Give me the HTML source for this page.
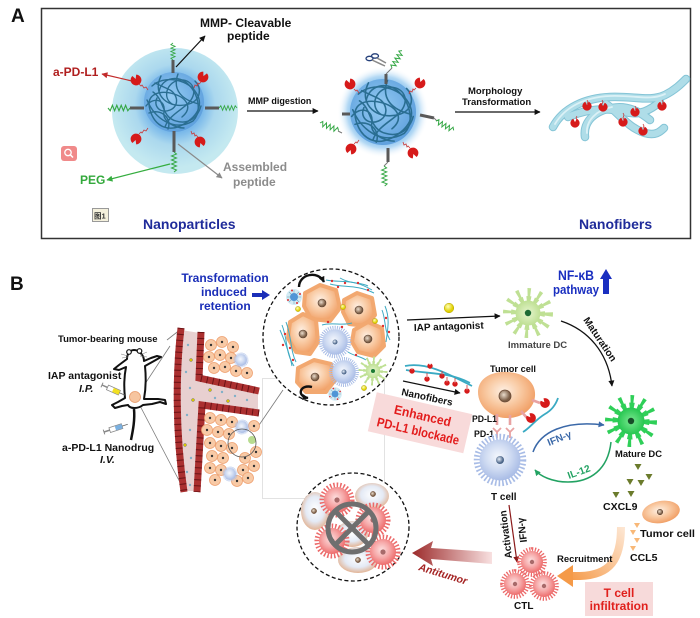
<!DOCTYPE html>
<html><head><meta charset="utf-8">
<style>
html,body{margin:0;padding:0;background:#fff}
svg{display:block}
text{font-family:"Liberation Sans",Arial,sans-serif;font-weight:bold}
</style></head><body>
<svg xmlns="http://www.w3.org/2000/svg" width="700" height="618" viewBox="0 0 700 618">
<defs>
 <marker id="mk" viewBox="0 0 10 10" refX="9" refY="5" markerUnits="userSpaceOnUse" markerWidth="7" markerHeight="6" orient="auto"><path d="M0,0L10,5L0,10z" fill="#111"/></marker>
 <marker id="mkr" viewBox="0 0 10 10" refX="9" refY="5" markerUnits="userSpaceOnUse" markerWidth="7" markerHeight="6" orient="auto"><path d="M0,0L10,5L0,10z" fill="#c22a2a"/></marker>
 <marker id="mkg" viewBox="0 0 10 10" refX="9" refY="5" markerUnits="userSpaceOnUse" markerWidth="7" markerHeight="6" orient="auto"><path d="M0,0L10,5L0,10z" fill="#35ad3f"/></marker>
 <marker id="mkgy" viewBox="0 0 10 10" refX="9" refY="5" markerUnits="userSpaceOnUse" markerWidth="7" markerHeight="6" orient="auto"><path d="M0,0L10,5L0,10z" fill="#8a8a8a"/></marker>
 <marker id="mkb" viewBox="0 0 10 10" refX="9" refY="5" markerUnits="userSpaceOnUse" markerWidth="7" markerHeight="6" orient="auto"><path d="M0,0L10,5L0,10z" fill="#3a68a8"/></marker>
 <marker id="mkgr" viewBox="0 0 10 10" refX="9" refY="5" markerUnits="userSpaceOnUse" markerWidth="7" markerHeight="6" orient="auto"><path d="M0,0L10,5L0,10z" fill="#22a262"/></marker>
 <marker id="mkdr" viewBox="0 0 10 10" refX="9" refY="5" markerUnits="userSpaceOnUse" markerWidth="7" markerHeight="6" orient="auto"><path d="M0,0L10,5L0,10z" fill="#8b1a1a"/></marker>

 <radialGradient id="gcy" cx="0.5" cy="0.45" r="0.5">
  <stop offset="0" stop-color="#5fa6ea"/><stop offset="0.45" stop-color="#7ab9ea"/>
  <stop offset="0.64" stop-color="#abd8ee"/><stop offset="1" stop-color="#c4e9f0"/>
 </radialGradient>
 <radialGradient id="gball" cx="0.45" cy="0.42" r="0.6">
  <stop offset="0" stop-color="#94cbf2"/><stop offset="1" stop-color="#5d9fdd"/>
 </radialGradient>
 <radialGradient id="gglow" r="0.5">
  <stop offset="0.6" stop-color="#6fb2ea"/><stop offset="0.78" stop-color="#a2d0f2" stop-opacity="0.8"/><stop offset="1" stop-color="#ffffff" stop-opacity="0"/>
 </radialGradient>
 <radialGradient id="gt" cx="0.45" cy="0.42" r="0.62">
  <stop offset="0" stop-color="#fef0e4"/><stop offset="0.45" stop-color="#f9cca6"/><stop offset="1" stop-color="#f09a5e"/>
 </radialGradient>
 <radialGradient id="gtc" cx="0.45" cy="0.42" r="0.62">
  <stop offset="0" stop-color="#f4f7fd"/><stop offset="0.5" stop-color="#cfdbf2"/><stop offset="1" stop-color="#a4b8e4"/>
 </radialGradient>
 <radialGradient id="gctl" cx="0.45" cy="0.42" r="0.62">
  <stop offset="0" stop-color="#fde0e0"/><stop offset="0.5" stop-color="#f6a8a8"/><stop offset="1" stop-color="#ec6464"/>
 </radialGradient>
 <radialGradient id="gpale" cx="0.5" cy="0.45" r="0.6">
  <stop offset="0" stop-color="#ffffff"/><stop offset="0.55" stop-color="#e4eaf5"/><stop offset="1" stop-color="#e2a880"/>
 </radialGradient>
 <radialGradient id="gmdc"><stop offset="0" stop-color="#7ae890"/><stop offset="1" stop-color="#26c650"/></radialGradient>
 <radialGradient id="gidc"><stop offset="0" stop-color="#e6f5ce"/><stop offset="1" stop-color="#bfe094"/></radialGradient>
 <radialGradient id="gnuc" cx="0.4" cy="0.4"><stop offset="0" stop-color="#eadccc"/><stop offset="1" stop-color="#7a5c44"/></radialGradient>
 <radialGradient id="gnucb" cx="0.4" cy="0.4"><stop offset="0" stop-color="#e6eef8"/><stop offset="1" stop-color="#4a6488"/></radialGradient>
 <radialGradient id="gyel" cx="0.4" cy="0.35"><stop offset="0" stop-color="#ffffb8"/><stop offset="1" stop-color="#e0d000"/></radialGradient>
 <linearGradient id="gorange" gradientUnits="userSpaceOnUse" x1="621" y1="525" x2="565" y2="576">
  <stop offset="0" stop-color="#fde6d2"/><stop offset="1" stop-color="#f59a48"/>
 </linearGradient>
 <linearGradient id="gant" x1="0" y1="0" x2="1" y2="0">
  <stop offset="0" stop-color="#9c2b2b"/><stop offset="1" stop-color="#f8e0e0"/>
 </linearGradient>

 <path id="ab" d="M-2,-5L0,-1L2,-5A5.4,5.4 0 1 1 -2,-5Z" fill="#d61a1a"/>
 <polyline id="zz" points="0,0 2,-2.5 4,2.5 6,-2.5 8,2.5 10,-2.5 12,2.5 14,-2.5 16,2.5 18,-2.5 20,0" fill="none" stroke="#36a846" stroke-width="1"/>
 <g id="tangle" fill="none" stroke="#2a6e92" stroke-width="1.4" stroke-linecap="round">
  <path d="M-22,-16C-10,-27 12,-23 21,-11S25,13 10,22S-19,25 -24,8S-13,-12 0,-8S19,6 8,15"/>
  <path d="M-27,-2C-19,17 0,30 19,19C28,10 25,-8 13,-19C2,-28 -13,-23 -15,-10"/>
  <path d="M-13,-26C-23,-6 -4,8 15,2C27,-2 28,-14 21,-21"/>
  <path d="M-25,11C-12,6 -2,17 -6,27M4,-28C-2,-12 8,-2 25,2M-21,-10C-9,-2 -13,15 2,19C15,23 24,15 27,4"/>
  <path d="M-9,25C-4,10 15,6 19,-6C23,-17 12,-25 2,-21C-8,-17 -11,-4 -2,2"/>
  <path d="M-19,-19L-6,-13C4,-9 6,4 -4,8C-14,12 -21,4 -17,-4"/>
  <path d="M-28,4C-20,-6 -8,-2 -10,10C-12,20 2,26 10,26"/>
 </g>
 <g id="tcell">
  <circle r="21.5" fill="none" stroke="#a8bce6" stroke-width="7" pathLength="40" stroke-dasharray="0.45 0.55"/>
  <circle r="19.5" fill="url(#gtc)"/>
 </g>
 <g id="ctl">
  <circle r="10.5" fill="none" stroke="#ec6a6a" stroke-width="6" pathLength="28" stroke-dasharray="0.45 0.55"/>
  <circle r="10" fill="url(#gctl)"/>
  <circle r="2" fill="#a86a6a"/>
 </g>
 <g id="oc"><circle r="5.5" fill="#f8caa6" stroke="#eea070" stroke-width="0.8"/><circle r="1.2" fill="#333"/></g>
 <g id="mnp">
  <circle r="8" fill="#d3ebf4"/>
  <g stroke="#7aaabb" stroke-width="0.6"><line x1="-7" y1="0" x2="7" y2="0"/><line x1="0" y1="-7" x2="0" y2="7"/><line x1="-5" y1="-5" x2="5" y2="5"/><line x1="-5" y1="5" x2="5" y2="-5"/></g>
  <circle r="4" fill="#4f95d6"/>
  <g fill="#e03030"><circle cx="6" cy="-3" r="1"/><circle cx="-6" cy="3" r="1"/><circle cx="-2" cy="-6.5" r="1"/><circle cx="3" cy="6" r="1"/></g>
 </g>
</defs>

<!-- ================= PANEL A ================= -->
<text x="11" y="22" font-size="19" font-weight="normal" fill="#111">A</text>
<rect x="41.5" y="8.5" width="649" height="230" fill="#fff" stroke="#333" stroke-width="1.5"/>

<!-- particle 1 -->
<circle cx="175" cy="111" r="63" fill="url(#gcy)"/>
<circle cx="174" cy="102" r="30" fill="url(#gball)"/>
<use href="#tangle" transform="translate(174,102)"/>
<g stroke="#595959" stroke-width="3">
 <line x1="173" y1="60" x2="173" y2="73"/>
 <line x1="130" y1="108" x2="144" y2="108"/>
 <line x1="205" y1="108" x2="219" y2="108"/>
 <line x1="174" y1="131" x2="174" y2="152"/>
</g>
<use href="#zz" transform="translate(173,60) rotate(-90) scale(0.85)"/>
<use href="#zz" transform="translate(130,108) rotate(180) scale(1.1)"/>
<use href="#zz" transform="translate(219,108) scale(0.9)"/>
<use href="#zz" transform="translate(174,152) rotate(90)"/>
<g fill="none" stroke="#c83a3a" stroke-width="0.8">
 <path d="M139,84 l2,2 l1,-1 l2,3 l2,-1 l2,3"/>
 <path d="M201,82 l-2,2 l-1,-1 l-1,3 l-2,-1 l-1,3"/>
 <path d="M139,134 l2,-2 l1,1 l2,-3 l2,1 l2,-3"/>
 <path d="M198,137 l-2,-2 l-1,1 l-1,-3 l-2,1 l-1,-3"/>
</g>
<use href="#ab" transform="translate(136,80) rotate(-20)"/>
<use href="#ab" transform="translate(203,77) rotate(25)"/>
<use href="#ab" transform="translate(136,139) rotate(200)"/>
<use href="#ab" transform="translate(200,142) rotate(160)"/>

<!-- labels particle 1 -->
<line x1="176" y1="67" x2="205" y2="36" stroke="#111" stroke-width="1.2" marker-end="url(#mk)"/>
<text x="200" y="27" font-size="12" fill="#111">MMP- Cleavable</text>
<text x="227" y="40" font-size="12" fill="#111">peptide</text>
<line x1="132" y1="81" x2="102" y2="74" stroke="#c22a2a" stroke-width="1.2" marker-end="url(#mkr)"/>
<text x="53" y="76" font-size="12" fill="#b01e1e">a-PD-L1</text>
<line x1="170" y1="164" x2="107" y2="180" stroke="#35ad3f" stroke-width="1.2" marker-end="url(#mkg)"/>
<text x="80" y="184" font-size="12" fill="#33a93c">PEG</text>
<line x1="178" y1="144" x2="222" y2="178" stroke="#8a8a8a" stroke-width="1.2" marker-end="url(#mkgy)"/>
<text x="223" y="171" font-size="12" fill="#8c8c8c">Assembled</text>
<text x="233" y="186" font-size="12" fill="#8c8c8c">peptide</text>

<!-- small icons -->
<rect x="61" y="146" width="16" height="15" rx="3" fill="#f08a8a"/>
<circle cx="68" cy="152.5" r="3.2" fill="none" stroke="#fff" stroke-width="1.3"/>
<line x1="70.3" y1="154.8" x2="73" y2="157.5" stroke="#fff" stroke-width="1.5"/>
<rect x="92.5" y="208.5" width="16" height="13" fill="#f4f0dc" stroke="#999" stroke-width="1"/>
<text x="94" y="218.5" font-size="7.5" font-weight="normal" fill="#333" style='font-family:"Liberation Sans","Noto Sans CJK SC",sans-serif'>图1</text>

<text x="143" y="229" font-size="14" fill="#1f2b9a">Nanoparticles</text>

<!-- MMP digestion arrow -->
<text x="248" y="104" font-size="9" fill="#111">MMP digestion</text>
<line x1="247" y1="111" x2="318" y2="111" stroke="#111" stroke-width="1.2" marker-end="url(#mk)"/>

<!-- particle 2 -->
<circle cx="383" cy="112" r="46" fill="url(#gglow)"/>
<circle cx="383" cy="112" r="33" fill="url(#gball)"/>
<use href="#tangle" transform="translate(383,112) scale(1.12)"/>
<g stroke="#595959" stroke-width="3">
 <line x1="386" y1="74" x2="386" y2="84"/>
 <line x1="420" y1="115" x2="434" y2="118"/>
 <line x1="388" y1="148" x2="388" y2="162"/>
 <line x1="342" y1="114" x2="350" y2="114"/>
</g>
<path d="M386,74 L392,68" stroke="#777" stroke-width="1"/>
<path d="M434,118 L437,121" stroke="#777" stroke-width="1"/>
<path d="M388,162 L384,166" stroke="#777" stroke-width="1"/>
<use href="#zz" transform="translate(392,68) rotate(-60)"/>
<use href="#zz" transform="translate(436,121) rotate(28)"/>
<use href="#zz" transform="translate(384,166) rotate(88)"/>
<use href="#zz" transform="translate(320,123) rotate(22)"/>
<path d="M338,131 L342,133" stroke="#777" stroke-width="1"/>
<ellipse cx="369.5" cy="58.5" rx="3.5" ry="2.2" fill="none" stroke="#25407a" stroke-width="1.3"/>
<ellipse cx="375" cy="56" rx="3.5" ry="2.2" fill="none" stroke="#25407a" stroke-width="1.3"/>
<path d="M372,60 L385,66 M377,58 L386,63" stroke="#888" stroke-width="1.5"/>
<g fill="none" stroke="#c83a3a" stroke-width="0.8">
 <path d="M416,88 l-2,2 l-1,-1 l-1,3 l-2,-1 l-1,3"/>
 <path d="M410,148 l-2,-2 l-1,1 l-1,-3 l-2,1 l-1,-3"/>
 <path d="M354,89 l2,2 l1,-1 l2,3"/>
 <path d="M354,144 l2,-2 l1,1 l2,-3"/>
</g>
<use href="#ab" transform="translate(420,83) rotate(20)"/>
<use href="#ab" transform="translate(413,153) rotate(160)"/>
<use href="#ab" transform="translate(350,84) rotate(-20)"/>
<use href="#ab" transform="translate(351,149) rotate(200)"/>

<!-- morphology transformation -->
<text x="468" y="94" font-size="9.5" fill="#111">Morphology</text>
<text x="462" y="105" font-size="9.5" fill="#111">Transformation</text>
<line x1="455" y1="112" x2="540" y2="112" stroke="#111" stroke-width="1.2" marker-end="url(#mk)"/>

<!-- nanofibers A -->
<g fill="none" stroke-linecap="round">
 <g stroke="#84c4d6" stroke-width="8.5">
  <path d="M553,127 C563,108 585,98 610,97 C635,96 650,102 665,95 C675,90 681,84 686,79"/>
  <path d="M568,117 C585,110 605,107 625,112 C640,116 650,110 660,102"/>
  <path d="M585,137 C583,122 594,111 612,108 C628,105 640,112 650,120"/>
  <path d="M606,104 C618,112 628,128 645,133 C655,136 660,132 664,128"/>
 </g>
 <g stroke="#afdde8" stroke-width="6.5">
  <path d="M553,127 C563,108 585,98 610,97 C635,96 650,102 665,95 C675,90 681,84 686,79"/>
  <path d="M568,117 C585,110 605,107 625,112 C640,116 650,110 660,102"/>
  <path d="M585,137 C583,122 594,111 612,108 C628,105 640,112 650,120"/>
  <path d="M606,104 C618,112 628,128 645,133 C655,136 660,132 664,128"/>
 </g>
 <g stroke="#dbf1f6" stroke-width="1.8">
  <path d="M555,124 C565,107 585,97 610,96 C635,95 650,101 665,94"/>
  <path d="M587,133 C586,121 596,110 612,107"/>
 </g>
</g>
<g stroke="#c83a3a" stroke-width="0.8" fill="none">
 <path d="M587,100 l1,2 l-1,2"/><path d="M602,100 l1,2 l-1,2"/><path d="M635,106 l1,2 l-1,2"/>
 <path d="M623,113 l1,2 l-1,3 l1,2"/><path d="M577,116 l-1,2 l1,2"/><path d="M662,100 l1,2 l-1,2"/><path d="M643,124 l1,2 l-1,2"/>
</g>
<use href="#ab" transform="translate(587,106) scale(0.85)"/>
<use href="#ab" transform="translate(603,107) scale(0.85)"/>
<use href="#ab" transform="translate(635,112) scale(0.85)"/>
<use href="#ab" transform="translate(623,122) scale(0.85)"/>
<use href="#ab" transform="translate(575,123) scale(0.85)"/>
<use href="#ab" transform="translate(662,106) scale(0.85)"/>
<use href="#ab" transform="translate(643,131) scale(0.85)"/>

<text x="579" y="229" font-size="14" fill="#1f2b9a">Nanofibers</text>

<!-- ================= PANEL B ================= -->
<text x="10" y="290" font-size="19" font-weight="normal" fill="#111">B</text>

<text x="225" y="282" font-size="12" fill="#1a2eb8" text-anchor="middle">Transformation</text>
<text x="224" y="296" font-size="12" fill="#1a2eb8" text-anchor="middle">induced</text>
<text x="225" y="310" font-size="12" fill="#1a2eb8" text-anchor="middle">retention</text>
<path d="M252,293 L262,293 L262,290 L270,295 L262,300 L262,297 L252,297 Z" fill="#1a2eb8"/>

<!-- white box -->
<rect x="262.5" y="378.5" width="122" height="120" fill="#fff" stroke="#e2e2e2" stroke-width="1"/>

<!-- mouse labels -->
<text x="58" y="342" font-size="9.5" fill="#111">Tumor-bearing mouse</text>
<text x="48" y="379" font-size="10.5" fill="#111">IAP antagonist</text>
<text x="79" y="392" font-size="10.5" font-style="italic" fill="#111">I.P.</text>
<text x="62" y="451" font-size="10.5" fill="#111">a-PD-L1 Nanodrug</text>
<text x="100" y="463" font-size="10.5" font-style="italic" fill="#111">I.V.</text>

<!-- callout lines -->
<g stroke="#7a7a7a" stroke-width="0.8">
 <line x1="167" y1="340" x2="181" y2="329"/>
 <line x1="137" y1="396" x2="170" y2="346"/>
 <line x1="137" y1="400" x2="184" y2="490"/>
 <line x1="255" y1="431" x2="283" y2="390"/>
</g>

<!-- mouse -->
<path d="M134,350 C130,350 127,354 127,359 L119,365 L114,369 L119,370 L126,367 C124,377 124,389 125,398 L118,402 L112,405 L115,408 L122,406 L128,405 C130,409 138,409 143,405 L152,404 L160,402 L166,404 L165,400 L158,399 L144,399 C146,388 146,376 145,366 L154,361 L161,357 L157,356 L151,358 L144,361 C144,355 139,350 134,350 Z" fill="#fff" stroke="#111" stroke-width="2" stroke-linejoin="round"/>
<path d="M134,409 C135,420 133,430 131,440" fill="none" stroke="#111" stroke-width="2.5"/>
<circle cx="129" cy="352" r="2.3" fill="#fff" stroke="#111" stroke-width="1.2"/>
<circle cx="139.5" cy="351" r="2.3" fill="#fff" stroke="#111" stroke-width="1.2"/>
<g stroke="#777" stroke-width="0.5"><line x1="128" y1="356" x2="121" y2="354"/><line x1="128" y1="357" x2="122" y2="358"/><line x1="140" y1="355" x2="147" y2="352"/><line x1="140" y1="356" x2="147" y2="357"/></g>
<circle cx="135" cy="397" r="5.5" fill="#f6c5a0" stroke="#e89a6a" stroke-width="0.8"/>
<!-- syringes -->
<g transform="translate(102,385) rotate(24)">
 <line x1="0" y1="-2.5" x2="0" y2="2.5" stroke="#888" stroke-width="1"/>
 <line x1="0" y1="0" x2="6" y2="0" stroke="#888" stroke-width="1.5"/>
 <rect x="6" y="-2.5" width="13" height="5" fill="#fff" stroke="#888" stroke-width="0.8"/>
 <rect x="12" y="-2.2" width="7" height="4.4" fill="#f2e020"/>
 <line x1="19" y1="0" x2="25" y2="0" stroke="#666" stroke-width="0.8"/>
</g>
<g transform="translate(104,432) rotate(-18)">
 <line x1="0" y1="-2.5" x2="0" y2="2.5" stroke="#888" stroke-width="1"/>
 <line x1="0" y1="0" x2="6" y2="0" stroke="#888" stroke-width="1.5"/>
 <rect x="6" y="-2.5" width="13" height="5" fill="#fff" stroke="#888" stroke-width="0.8"/>
 <rect x="12" y="-2.2" width="7" height="4.4" fill="#7ab0e0"/>
 <line x1="19" y1="0" x2="25" y2="0" stroke="#666" stroke-width="0.8"/>
</g>

<!-- vessel -->
<path d="M181,330 L200,333 L199,379 L258,392 L258,412 L201,405 L196,491 L184,491 C178,440 175,380 181,330 Z" fill="#e8d0d0"/>
<g fill="none" stroke="#ab3030" stroke-width="7">
 <path d="M181,328 C176,370 175,430 184,492"/>
 <path d="M201,332 L199,378 L259,391"/>
 <path d="M259,413 L202,405 L197,492"/>
</g>
<g fill="none" stroke="#6b1215" stroke-width="7" stroke-dasharray="1 5">
 <path d="M181,328 C176,370 175,430 184,492"/>
 <path d="M201,332 L199,378 L259,391"/>
 <path d="M259,413 L202,405 L197,492"/>
</g>
<g fill="#80b0c8">
 <circle cx="188" cy="345" r="1.2"/><circle cx="186" cy="372" r="1.2"/><circle cx="190" cy="388" r="1.2"/><circle cx="187" cy="415" r="1.2"/>
 <circle cx="190" cy="430" r="1.2"/><circle cx="191" cy="458" r="1.2"/><circle cx="187" cy="472" r="1.2"/><circle cx="190" cy="485" r="1.2"/>
 <circle cx="222" cy="392" r="1.2"/><circle cx="235" cy="396" r="1.2"/><circle cx="247" cy="400" r="1.2"/><circle cx="215" cy="398" r="1.2"/>
</g>
<g fill="#d8c800" stroke="#665" stroke-width="0.4">
 <circle cx="191" cy="360" r="1.5"/><circle cx="193" cy="400" r="1.5"/><circle cx="185" cy="445" r="1.5"/><circle cx="210" cy="390" r="1.5"/><circle cx="228" cy="401" r="1.5"/>
</g>
<!-- tissue cells -->
<use href="#oc" x="211" y="345"/><use href="#oc" x="222" y="342"/><use href="#oc" x="233" y="347"/>
<use href="#oc" x="209" y="357"/><use href="#oc" x="220" y="355"/><use href="#oc" x="231" y="358"/>
<use href="#oc" x="214" y="368"/><use href="#oc" x="225" y="367"/><use href="#oc" x="236" y="371"/><use href="#oc" x="247" y="373"/>
<use href="#oc" x="210" y="418"/><use href="#oc" x="221" y="420"/><use href="#oc" x="232" y="422"/><use href="#oc" x="254" y="426"/>
<use href="#oc" x="207" y="430"/><use href="#oc" x="218" y="432"/><use href="#oc" x="229" y="434"/>
<use href="#oc" x="210" y="443"/><use href="#oc" x="221" y="446"/><use href="#oc" x="232" y="448"/>
<use href="#oc" x="212" y="456"/><use href="#oc" x="223" y="458"/><use href="#oc" x="245" y="458"/><use href="#oc" x="256" y="452"/>
<use href="#oc" x="210" y="468"/><use href="#oc" x="221" y="470"/><use href="#oc" x="243" y="470"/><use href="#oc" x="254" y="466"/>
<use href="#oc" x="215" y="480"/><use href="#oc" x="237" y="481"/><use href="#oc" x="248" y="478"/>
<use href="#tcell" transform="translate(241,360) scale(0.3)"/>
<use href="#tcell" transform="translate(242,427) scale(0.3)"/>
<use href="#tcell" transform="translate(230,474) scale(0.3)"/>
<circle cx="252" cy="440" r="4" fill="#b8dc90"/>
<circle cx="242" cy="443" r="14" fill="none" stroke="#555" stroke-width="0.8"/>

<!-- dashed zoom circle -->
<circle cx="331" cy="337" r="68" fill="#fff" stroke="#111" stroke-width="1.3" stroke-dasharray="4 2.5"/>
<g stroke-linejoin="round" stroke="#f2a870" stroke-width="4" fill="url(#gt)">
 <polygon points="305,293 320,285 336,290 340,308 330,321 311,319 304,306"/>
 <polygon points="344,300 357,293 372,298 375,315 366,326 349,324 343,312"/>
 <polygon points="290,322 303,314 316,320 318,342 310,354 296,352 288,338"/>
 <polygon points="354,330 368,322 382,328 384,346 374,356 358,352 352,342"/>
 <polygon points="298,368 314,360 331,364 335,380 326,392 306,392 297,382"/>
</g>
<g fill="url(#gnuc)" stroke="#5a4030" stroke-width="0.6">
 <circle cx="322" cy="303" r="4"/><circle cx="359" cy="310" r="4"/><circle cx="303" cy="334" r="4"/><circle cx="368" cy="339" r="4"/><circle cx="315" cy="377" r="4"/>
</g>
<use href="#tcell" transform="translate(335,342) scale(0.65)"/>
<circle cx="335" cy="342" r="2.5" fill="url(#gnucb)"/>
<use href="#tcell" transform="translate(344,372) scale(0.6)"/>
<circle cx="344" cy="372" r="2.5" fill="url(#gnucb)"/>
<g transform="translate(373,371) scale(0.58)">
 <circle r="17" fill="none" stroke="#bfe094" stroke-width="16" pathLength="33" stroke-dasharray="0.8 1.95"/>
 <circle r="14" fill="none" stroke="#bfe094" stroke-width="6" pathLength="33" stroke-dasharray="1.6 1.15" stroke-dashoffset="0.4"/>
 <circle r="12.5" fill="url(#gidc)"/>
 <circle r="3.5" fill="#1d7b34"/>
</g>
<use href="#mnp" x="294" y="297"/>
<use href="#mnp" transform="translate(335,394) scale(0.85)"/>
<g fill="none" stroke="#3eaac2" stroke-width="1">
 <path d="M326,280 C340,283 352,278 372,290"/><path d="M330,284 C345,288 355,284 374,293"/><path d="M340,278 C350,284 360,282 368,286"/>
 <path d="M382,310 C386,320 384,330 390,340"/><path d="M385,306 C390,318 388,328 386,342"/>
 <path d="M282,325 C288,340 285,352 294,366"/><path d="M286,322 C292,338 290,350 296,362"/><path d="M280,330 C286,344 290,355 292,366"/>
 <path d="M322,325 C332,322 342,326 352,323"/><path d="M348,352 C354,356 360,356 366,360"/>
</g>
<g fill="#e03030">
 <circle cx="332" cy="281" r="1.2"/><circle cx="345" cy="283" r="1.2"/><circle cx="358" cy="283" r="1.2"/><circle cx="368" cy="290" r="1.2"/><circle cx="338" cy="287" r="1.2"/>
 <circle cx="386" cy="318" r="1.2"/><circle cx="389" cy="332" r="1.2"/><circle cx="383" cy="326" r="1.2"/>
 <circle cx="285" cy="334" r="1.2"/><circle cx="290" cy="348" r="1.2"/><circle cx="293" cy="360" r="1.2"/><circle cx="283" cy="345" r="1.2"/>
 <circle cx="328" cy="322" r="1.2"/><circle cx="342" cy="327" r="1.2"/><circle cx="356" cy="355" r="1.2"/>
</g>
<g fill="url(#gyel)" stroke="#a09000" stroke-width="0.4">
 <circle cx="298" cy="309" r="2.6"/><circle cx="343" cy="307" r="2.6"/><circle cx="375" cy="321" r="2.6"/><circle cx="364" cy="388" r="2.6"/>
</g>
<path d="M299,287 C299,274 318,270 324,282" fill="none" stroke="#111" stroke-width="2.4" marker-end="url(#mk)"/>
<path d="M312,387 C300,384 296,396 308,398" fill="none" stroke="#111" stroke-width="2.4" marker-end="url(#mk)"/>

<!-- IAP antagonist -->
<circle cx="449" cy="308" r="4.8" fill="url(#gyel)" stroke="#b0a000" stroke-width="0.5"/>
<line x1="407" y1="320" x2="500" y2="316" stroke="#111" stroke-width="1.2" marker-end="url(#mk)"/>
<text transform="translate(414,331) rotate(-2)" font-size="10" fill="#111">IAP antagonist</text>

<!-- immature DC -->
<g transform="translate(528,313)">
 <circle r="17" fill="none" stroke="#bfe094" stroke-width="16" pathLength="33" stroke-dasharray="0.8 1.95"/>
 <circle r="14" fill="none" stroke="#bfe094" stroke-width="6" pathLength="33" stroke-dasharray="1.6 1.15" stroke-dashoffset="0.4"/>
 <circle r="12.5" fill="url(#gidc)"/>
 <circle r="3.2" fill="#1d6b34"/>
</g>
<text x="508" y="348" font-size="9.5" fill="#444">Immature DC</text>

<!-- NF-kB -->
<text x="558" y="280" font-size="14" fill="#1a2fc0" textLength="36" lengthAdjust="spacingAndGlyphs">NF-κB</text>
<text x="553" y="294" font-size="13" fill="#1a2fc0" textLength="46" lengthAdjust="spacingAndGlyphs">pathway</text>
<path d="M603,294 L603,279 L600,279 L606,269 L612,279 L609,279 L609,294 Z" fill="#1a2fc0"/>

<!-- maturation -->
<path d="M561,321 C588,330 608,352 612,386" fill="none" stroke="#111" stroke-width="1.3" marker-end="url(#mk)"/>
<text transform="translate(583,320) rotate(56)" font-size="10" fill="#111">Maturation</text>

<!-- mature DC -->
<g transform="translate(631,421)">
 <circle r="18" fill="none" stroke="#2fcf58" stroke-width="16" pathLength="33" stroke-dasharray="0.8 1.95"/>
 <circle r="15" fill="none" stroke="#2fcf58" stroke-width="7" pathLength="33" stroke-dasharray="1.6 1.15" stroke-dashoffset="0.4"/>
 <circle r="13.5" fill="url(#gmdc)"/>
 <circle r="3.2" fill="#174d28"/>
</g>
<text x="615" y="457" font-size="9.5" fill="#111" textLength="47" lengthAdjust="spacingAndGlyphs">Mature DC</text>
<g fill="#6b7b2c">
 <path d="M634.5,464 L641.5,464 L638,470 Z"/><path d="M626.5,479 L633.5,479 L630,485 Z"/><path d="M637.5,480 L644.5,480 L641,486 Z"/>
 <path d="M645.5,474 L652.5,474 L649,480 Z"/><path d="M612.5,492 L619.5,492 L616,498 Z"/><path d="M627.5,491 L634.5,491 L631,497 Z"/>
</g>
<text x="603" y="510" font-size="10.5" fill="#111">CXCL9</text>

<!-- small tumor cell -->
<ellipse cx="661" cy="512" rx="19" ry="11" transform="rotate(-10 661 512)" fill="url(#gt)"/>
<circle cx="660" cy="512" r="2.8" fill="url(#gnuc)" stroke="#5a4030" stroke-width="0.5"/>
<g fill="#f8b878">
 <path d="M634,523 L640,523 L637,528 Z"/><path d="M630,530 L636,530 L633,535 Z"/><path d="M634,538 L640,538 L637,543 Z"/><path d="M630,546 L636,546 L633,551 Z"/>
</g>
<text x="640" y="537" font-size="10" fill="#111" textLength="55" lengthAdjust="spacingAndGlyphs">Tumor cell</text>
<text x="630" y="561" font-size="10.5" fill="#111">CCL5</text>

<!-- orange recruitment arrow -->
<path d="M621,527 C621,560 610,575 580,576 L571,576" fill="none" stroke="url(#gorange)" stroke-width="8"/>
<path d="M573,565 L573,587 L557,576 Z" fill="#f59a48"/>
<text x="557" y="562" font-size="9.5" fill="#111">Recruitment</text>
<rect x="585" y="582" width="68" height="34" fill="#f7dada"/>
<text x="619" y="597" font-size="12" fill="#e0201c" text-anchor="middle">T cell</text>
<text x="619" y="610" font-size="12" fill="#e0201c" text-anchor="middle">infiltration</text>

<!-- big tumor cell & T cell -->
<path d="M478,392 C478,378 492,371 508,372 C524,373 536,382 535,396 C534,410 520,419 505,418 C490,417 478,406 478,392 Z" fill="url(#gt)"/>
<circle cx="505" cy="396" r="6" fill="url(#gnuc)" stroke="#6a4a35" stroke-width="0.8"/>
<text x="490" y="372" font-size="9.5" fill="#111" textLength="46" lengthAdjust="spacingAndGlyphs">Tumor cell</text>
<g stroke="#e8a2a2" stroke-width="2.6" fill="none">
 <line x1="497" y1="414" x2="497" y2="425"/><line x1="510" y1="415" x2="510" y2="425"/>
 <line x1="521" y1="411" x2="527" y2="418"/><line x1="532" y1="400" x2="540" y2="403"/>
</g>
<g stroke="#e8a2a2" stroke-width="1.8" fill="none">
 <path d="M493,428 L497,432 L501,428 M497,432 L497,438"/>
 <path d="M506,428 L510,432 L514,428 M510,432 L510,438"/>
</g>
<path d="M523,432 C530,428 535,420 545,414 C552,410 556,404 558,398" fill="none" stroke="#3aaac3" stroke-width="1.8"/>
<use href="#ab" transform="translate(531,418) rotate(-40) scale(0.9)"/>
<use href="#ab" transform="translate(545,403) rotate(-40) scale(0.9)"/>
<text x="472" y="422" font-size="9.5" fill="#111" textLength="25" lengthAdjust="spacingAndGlyphs">PD-L1</text>
<text x="474" y="437" font-size="9.5" fill="#111" textLength="20" lengthAdjust="spacingAndGlyphs">PD-1</text>
<use href="#tcell" transform="translate(500,460) scale(1.05)"/>
<circle cx="500" cy="460" r="4" fill="url(#gnucb)"/>
<text x="491" y="500" font-size="10" fill="#111">T cell</text>

<!-- IFN-gamma / IL-12 -->
<path d="M533,452 C540,432 565,420 604,425" fill="none" stroke="#3a68a8" stroke-width="1.5" marker-end="url(#mkb)"/>
<text transform="translate(549,446) rotate(-22)" font-size="10" fill="#3a68a8">IFN-γ</text>
<path d="M611,442 C608,470 590,482 568,482 C552,482 540,476 535,470" fill="none" stroke="#22a262" stroke-width="1.5" marker-end="url(#mkgr)"/>
<text transform="translate(569,479) rotate(-20)" font-size="10" fill="#22a262">IL-12</text>

<!-- activation -->
<line x1="509" y1="505" x2="517" y2="562" stroke="#8b1a1a" stroke-width="1.2" marker-end="url(#mkdr)"/>
<text transform="translate(512,558) rotate(-97)" font-size="10" fill="#111">Activation</text>
<text transform="translate(527,542) rotate(-97)" font-size="10" fill="#111">IFN-γ</text>
<use href="#ctl" transform="translate(532,562) scale(1.1)"/>
<use href="#ctl" transform="translate(515,584) scale(1.1)"/>
<use href="#ctl" transform="translate(544,586) scale(1.1)"/>
<text x="514" y="609" font-size="10" fill="#111">CTL</text>

<!-- Enhanced PD-L1 blockade (box first) -->
<g transform="translate(421,423) rotate(13)">
 <rect x="-50" y="-20" width="98" height="40" fill="#f8dada"/>
 <text x="0" y="-3" text-anchor="middle" font-size="13" fill="#e31c1c" textLength="58" lengthAdjust="spacingAndGlyphs">Enhanced</text>
 <text x="-1" y="13" text-anchor="middle" font-size="13" fill="#e31c1c" textLength="84" lengthAdjust="spacingAndGlyphs">PD-L1 blockade</text>
</g>

<!-- nanofibers B (over box) -->
<path d="M403,381 L460,393" stroke="#111" stroke-width="1.2" marker-end="url(#mk)"/>
<g fill="none" stroke="#3aaac3" stroke-width="1.8">
 <path d="M405,366 C425,362 445,372 472,386"/>
 <path d="M406,370 C428,374 450,372 470,383"/>
</g>
<g stroke="#d03030" stroke-width="0.8">
 <line x1="412" y1="368" x2="412" y2="372"/><line x1="430" y1="365" x2="430" y2="369"/><line x1="442" y1="371" x2="442" y2="376"/>
 <line x1="427" y1="373" x2="427" y2="378"/><line x1="455" y1="378" x2="455" y2="383"/><line x1="467" y1="385" x2="467" y2="390"/><line x1="447" y1="377" x2="447" y2="382"/>
</g>
<use href="#ab" transform="translate(412,371) scale(0.5)"/>
<use href="#ab" transform="translate(430,366) scale(0.5)"/>
<use href="#ab" transform="translate(442,376) scale(0.5)"/>
<use href="#ab" transform="translate(427,379) scale(0.5)"/>
<use href="#ab" transform="translate(455,384) scale(0.5)"/>
<use href="#ab" transform="translate(467,391) scale(0.5)"/>
<use href="#ab" transform="translate(447,383) scale(0.5)"/>
<text transform="translate(401,395) rotate(12)" font-size="10" fill="#111" textLength="52" lengthAdjust="spacingAndGlyphs">Nanofibers</text>

<!-- dead tumor cluster -->
<ellipse cx="353" cy="527" rx="56" ry="54" fill="#fff" stroke="#111" stroke-width="1.3" stroke-dasharray="4 2.5"/>
<ellipse cx="315" cy="511" rx="14" ry="19" fill="url(#gpale)"/>
<ellipse cx="372" cy="496" rx="17" ry="13" fill="url(#gpale)"/>
<ellipse cx="358" cy="560" rx="20" ry="13" fill="url(#gpale)"/>
<ellipse cx="352" cy="534" rx="16" ry="13" fill="url(#gpale)"/>
<g fill="url(#gnuc)" stroke="#6a4a35" stroke-width="0.5">
 <circle cx="314" cy="511" r="2.6"/><circle cx="373" cy="494" r="2.6"/><circle cx="358" cy="560" r="2.6"/>
</g>
<use href="#ctl" transform="translate(337,500) scale(1.3)"/>
<use href="#ctl" transform="translate(373,520) scale(1.3)"/>
<use href="#ctl" transform="translate(332,541) scale(1.3)"/>
<use href="#ctl" transform="translate(383,552) scale(1.3)"/>
<circle cx="352" cy="528" r="24" fill="none" stroke="#6f6f6f" stroke-width="5"/>
<path d="M335,511 L369,545 M369,511 L335,545" stroke="#6f6f6f" stroke-width="5"/>

<!-- antitumor arrow -->
<polygon points="412,553 433,541 431,548 492,552 492,564 431,559 433,566" fill="url(#gant)"/>
<text transform="translate(418,570) rotate(17)" font-size="10.5" font-style="italic" fill="#a42222">Antitumor</text>
</svg>
</body></html>
